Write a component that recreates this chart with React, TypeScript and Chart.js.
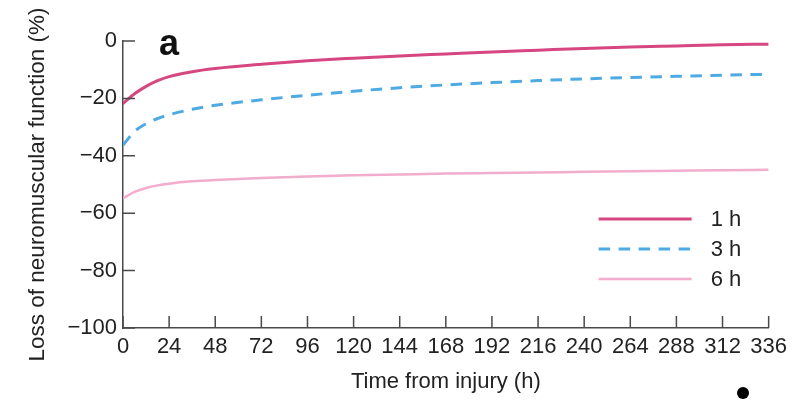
import React, { useEffect, useRef } from "react";
import { Chart, registerables } from "chart.js";

Chart.register(...registerables);

const hours = [0, 6, 12, 18, 24, 36, 48, 72, 96, 120, 144, 168, 192, 216, 240, 264, 288, 312, 336];
const loss1h = [-21.8, -18.4, -15.8, -13.8, -12.4, -10.7, -9.6, -8.1, -6.9, -6.0, -5.2, -4.5, -3.8, -3.2, -2.6, -2.1, -1.7, -1.3, -1.1];
const loss3h = [-36.3, -31.5, -28.8, -27.0, -25.7, -23.8, -22.4, -20.5, -18.9, -17.5, -16.3, -15.3, -14.5, -13.8, -13.2, -12.7, -12.3, -11.9, -11.6];
const loss6h = [-54.8, -52.6, -51.2, -50.3, -49.7, -48.9, -48.4, -47.7, -47.2, -46.8, -46.5, -46.2, -46.0, -45.8, -45.6, -45.4, -45.2, -45.0, -44.9];
const seriesLabels = ["1 h", "3 h", "6 h"];
const xTickStep = 24;
const yTickStep = 20;

const FONT = "'Liberation Sans', Arial, Helvetica, sans-serif";
const AXIS_COLOR = "#4a4a4a";

const inwardTicks = {
  id: "inwardTicks",
  afterDatasetsDraw(chart: any) {
    const { ctx, chartArea, scales } = chart;
    const len = 12;
    ctx.save();
    ctx.strokeStyle = AXIS_COLOR;
    ctx.lineWidth = 1.5;
    ctx.beginPath();
    scales.x.ticks.forEach((_t: any, i: number) => {
      const px = scales.x.getPixelForTick(i);
      ctx.moveTo(px, chartArea.bottom);
      ctx.lineTo(px, chartArea.bottom - len);
    });
    scales.y.ticks.forEach((_t: any, i: number) => {
      const py = scales.y.getPixelForTick(i);
      ctx.moveTo(chartArea.left, py);
      ctx.lineTo(chartArea.left + len, py);
    });
    ctx.stroke();
    // panel label
    ctx.fillStyle = "#111";
    ctx.font = `bold 36px ${FONT}`;
    ctx.textAlign = "left";
    ctx.textBaseline = "alphabetic";
    ctx.fillText("a", chartArea.left + 36, chartArea.top + 14);
    ctx.restore();
  },
};

const customLegend = {
  id: "customLegend",
  afterDraw(chart: any) {
    const { ctx, chartArea } = chart;
    ctx.save();
    chart.data.datasets.forEach((ds: any, i: number) => {
      const y = chartArea.top + 178 + i * 30;
      const x0 = chartArea.right - 170;
      const x1 = chartArea.right - 77;
      ctx.strokeStyle = ds.borderColor;
      ctx.lineWidth = ds.borderWidth;
      ctx.setLineDash(ds.borderDash || []);
      ctx.beginPath();
      ctx.moveTo(x0, y);
      ctx.lineTo(x1, y);
      ctx.stroke();
      ctx.setLineDash([]);
      ctx.fillStyle = "#222";
      ctx.font = `22px ${FONT}`;
      ctx.textAlign = "left";
      ctx.textBaseline = "middle";
      ctx.fillText(ds.label, chartArea.right - 58, y + 1);
    });
    ctx.restore();
  },
};

export default function App() {
  const ref = useRef<HTMLCanvasElement>(null);
  useEffect(() => {
    if (!ref.current) return;
    const mk = (vals: number[]) => hours.map((h, i) => ({ x: h, y: vals[i] }));
    const chart = new Chart(ref.current, {
      type: "line",
      data: {
        datasets: [
          {
            label: seriesLabels[0],
            data: mk(loss1h),
            borderColor: "rgb(214, 70, 128)",
            borderWidth: 3,
            pointRadius: 0,
            cubicInterpolationMode: "monotone",
          },
          {
            label: seriesLabels[1],
            data: mk(loss3h),
            borderColor: "rgb(78, 170, 226)",
            borderWidth: 3,
            borderDash: [11.5, 8.5],
            pointRadius: 0,
            cubicInterpolationMode: "monotone",
          },
          {
            label: seriesLabels[2],
            data: mk(loss6h),
            borderColor: "rgb(242, 172, 204)",
            borderWidth: 2.5,
            pointRadius: 0,
            cubicInterpolationMode: "monotone",
          },
        ],
      },
      options: {
        animation: false,
        responsive: false,
        maintainAspectRatio: false,
        layout: { padding: { left: 0, right: 23, top: 41, bottom: 0 } },
        plugins: { legend: { display: false }, tooltip: { enabled: false } },
        scales: {
          x: {
            type: "linear",
            min: 0,
            max: 336,
            afterFit: (s: any) => {
              s.height = 73;
            },
            ticks: {
              stepSize: xTickStep,
              color: "#222",
              padding: 6,
              maxRotation: 0,
              autoSkip: false,
              font: { family: FONT, size: 22 },
            },
            grid: { display: true, drawOnChartArea: false, drawTicks: false },
            border: { color: AXIS_COLOR, width: 1.5 },
            title: {
              display: true,
              text: "Time from injury (h)",
              color: "#222",
              font: { family: FONT, size: 22 },
              padding: { top: 0, bottom: 6 },
            },
          },
          y: {
            type: "linear",
            min: -100,
            max: 0,
            afterFit: (s: any) => {
              s.width = 123;
            },
            ticks: {
              stepSize: yTickStep,
              color: "#222",
              padding: 6,
              font: { family: FONT, size: 22 },
              callback: (v: any) => (Number(v) < 0 ? "\u2212" + Math.abs(Number(v)) : String(v)),
            },
            grid: { display: true, drawOnChartArea: false, drawTicks: false },
            border: { color: AXIS_COLOR, width: 1.5 },
            title: {
              display: true,
              text: "Loss of neuromuscular function (%)",
              color: "#222",
              font: { family: FONT, size: 22.5 },
              padding: { top: 24, bottom: 0 },
            },
          },
        },
      },
      plugins: [inwardTicks, customLegend],
    });
    return () => chart.destroy();
  }, []);
  return (
    <div style={{ position: "absolute", left: 0, top: 0, width: 793, height: 401, background: "#fff" }}>
      <canvas ref={ref} width={793} height={401} style={{ width: 793, height: 401, display: "block" }} />
      <div
        style={{
          position: "absolute",
          left: 736.5,
          top: 387,
          width: 12,
          height: 12,
          borderRadius: "50%",
          background: "#000",
        }}
      />
    </div>
  );
}
